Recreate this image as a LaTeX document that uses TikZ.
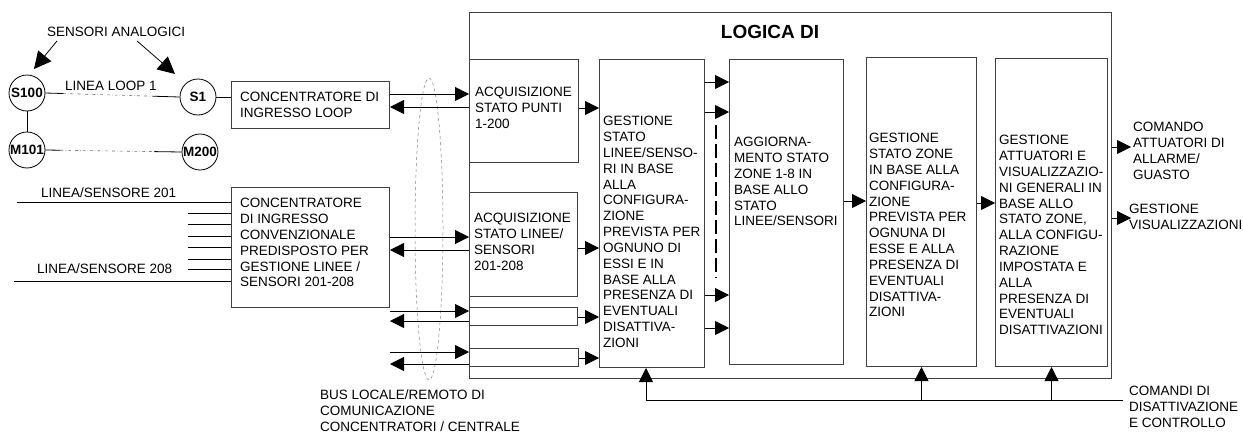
\documentclass[tikz,border=0pt]{standalone}
\usepackage{fontspec}
\setmainfont{Liberation Sans}
\usetikzlibrary{arrows.meta,positioning,calc}
\tikzset{
  box/.style={draw=black!75, line width=1pt, anchor=north west, inner sep=0pt},
  txt/.style={anchor=north west, align=left, inner sep=0pt, font=\fontsize{13.5}{15.85}\selectfont},
  sensore/.style={draw, circle, line width=0.8pt, minimum size=36pt, inner sep=0pt, font=\fontsize{13.5}{15}\selectfont\bfseries},
  arrow/.style={-{Triangle[length=14pt,width=14pt]}, line width=0.8pt},
  bigarrow/.style={-{Triangle[length=17pt,width=17pt]}, line width=0.8pt},
  loopline/.style={dash dot, black!55, line width=0.6pt}
}

\begin{document}
\begin{tikzpicture}[x=1pt, y=-1pt]
  \useasboundingbox (0,0) rectangle (1243,434);

  % logica
  \node[box, minimum width=642pt, minimum height=366pt] (logica) at (469,12) {};
  \node[anchor=center, inner sep=0pt, font=\fontsize{19}{21}\selectfont\bfseries] (tlogica) at (770,32) {LOGICA DI};

  \node[box, minimum width=109pt, minimum height=103pt] (acqpunti) at (469,59) {};
  \node[box, minimum width=108pt, minimum height=104pt] (acqlinee) at (469,192) {};
  \node[box, minimum width=108pt, minimum height=18pt] (acqa) at (469,307) {};
  \node[box, minimum width=109pt, minimum height=18pt] (acqb) at (469,348) {};
  \node[box, minimum width=105pt, minimum height=308pt] (gestlinee) at (599,59) {};
  \node[box, minimum width=114pt, minimum height=305pt] (aggzone) at (729,59) {};
  \node[box, minimum width=110pt, minimum height=309pt] (gestzone) at (866,57) {};
  \node[box, minimum width=112pt, minimum height=308pt] (gestatt) at (995,58) {};

  \node[txt] (tacqpunti) at (475,87) {ACQUISIZIONE\\STATO PUNTI\\1-200};
  \node[txt] (tacqlinee) at (474,213) {ACQUISIZIONE\\STATO LINEE/\\SENSORI\\201-208};
  \node[txt] (tgestlinee) at (603,116) {GESTIONE\\STATO\\LINEE/SENSO-\\RI IN BASE\\ALLA\\CONFIGURA-\\ZIONE\\PREVISTA PER\\OGNUNO DI\\ESSI E IN\\BASE ALLA\\PRESENZA DI\\EVENTUALI\\DISATTIVA-\\ZIONI};
  \node[txt] (taggzone) at (734,137) {AGGIORNA-\\MENTO STATO\\ZONE 1-8 IN\\BASE ALLO\\STATO\\LINEE/SENSORI};
  \node[txt] (tgestzone) at (869,133) {GESTIONE\\STATO ZONE\\IN BASE ALLA\\CONFIGURA-\\ZIONE\\PREVISTA PER\\OGNUNA DI\\ESSE E ALLA\\PRESENZA DI\\EVENTUALI\\DISATTIVA-\\ZIONI};
  \node[txt] (tgestatt) at (999,135) {GESTIONE\\ATTUATORI E\\VISUALIZZAZIO-\\NI GENERALI IN\\BASE ALLO\\STATO ZONE,\\ALLA CONFIGU-\\RAZIONE\\IMPOSTATA E\\ALLA\\PRESENZA DI\\EVENTUALI\\DISATTIVAZIONI};

  % concentratori
  \node[box, minimum width=158pt, minimum height=47pt] (concloop) at (231,81) {};
  \node[box, minimum width=158pt, minimum height=120pt] (concconv) at (231,187) {};
  \node[txt] (tconcloop) at (240,92) {CONCENTRATORE DI\\INGRESSO LOOP};
  \node[txt] (tconcconv) at (240,198) {CONCENTRATORE\\DI INGRESSO\\CONVENZIONALE\\PREDISPOSTO PER\\GESTIONE LINEE /\\SENSORI 201-208};

  % sensori
  \node[sensore] (s100) at (27,93) {S100};
  \node[sensore] (s1) at (198,97) {S1};
  \node[sensore] (m101) at (27,150) {M101};
  \node[sensore] (m200) at (200,152) {M200};
  \node[txt] (tsensori) at (47,27) {SENSORI ANALOGICI};
  \node[txt] (tloop) at (65,81) {LINEA LOOP 1};
  \node[txt] (tlinea201) at (41,188) {LINEA/SENSORE 201};
  \node[txt] (tlinea208) at (37,264) {LINEA/SENSORE 208};

  \draw[bigarrow] ([xshift=10pt, yshift=-4pt]tsensori.south west) -- (34,69);
  \draw[bigarrow] ([xshift=90pt, yshift=-4pt]tsensori.south west) -- (175,74);

  \draw[line width=0.8pt] (s100) -- (m101);
  \draw[line width=0.8pt] (s100.east) -- ($(s100.east)!0.13!(s1.west)$);
  \draw[loopline] ($(s100.east)!0.13!(s1.west)$) -- ($(s100.east)!0.8!(s1.west)$);
  \draw[line width=0.8pt] ($(s100.east)!0.8!(s1.west)$) -- (s1.west);
  \draw[line width=0.8pt] (m101.east) -- ($(m101.east)!0.11!(m200.west)$);
  \draw[loopline] ($(m101.east)!0.11!(m200.west)$) -- ($(m101.east)!0.8!(m200.west)$);
  \draw[line width=0.8pt] ($(m101.east)!0.8!(m200.west)$) -- (m200.west);
  \draw[line width=0.8pt] (s1.east) -- (concloop.west |- s1.east);

  % linee convenzionali
  \draw[line width=0.8pt] (17,202) -- (concconv.west |- 0,202);
  \draw[line width=0.8pt] (14,281) -- (concconv.west |- 0,281);
  \foreach \y in {213,224,236,247,259,269}
    \draw[line width=0.8pt] (188,\y) -- (concconv.west |- 0,\y);

  % bus
  \draw[dashed, black!50, line width=0.5pt] (429,229) ellipse [x radius=14pt, y radius=151pt];
  \node[txt] (tbus) at (320,390) {BUS LOCALE/REMOTO DI\\COMUNICAZIONE\\CONCENTRATORI / CENTRALE};
  \draw[arrow] (concloop.east |- 0,94) -- (acqpunti.west |- 0,94);
  \draw[arrow] (acqpunti.west |- 0,107) -- (concloop.east |- 0,107);
  \draw[arrow] (concconv.east |- 0,237) -- (acqlinee.west |- 0,237);
  \draw[arrow] (acqlinee.west |- 0,250) -- (concconv.east |- 0,250);
  \draw[arrow] (concconv.east |- 0,311) -- (acqa.west |- 0,311);
  \draw[arrow] (acqa.west |- 0,321) -- (concconv.east |- 0,321);
  \draw[arrow] (concconv.east |- 0,352) -- (acqb.west |- 0,352);
  \draw[arrow] (acqb.west |- 0,364) -- (concconv.east |- 0,364);

  % flusso interno
  \draw[arrow] (acqpunti.east |- 0,108) -- (gestlinee.west |- 0,108);
  \draw[arrow] (acqlinee.east |- 0,248) -- (gestlinee.west |- 0,248);
  \draw[arrow] (acqa.east |- 0,317) -- (gestlinee.west |- 0,317);
  \draw[arrow] (acqb.east |- 0,358) -- (gestlinee.west |- 0,358);
  \foreach \y in {82,112,295,328}
    \draw[arrow] (gestlinee.east |- 0,\y) -- (aggzone.west |- 0,\y);
  \draw[line width=2pt, dash pattern=on 14pt off 5pt] (716,125) -- (716,278);
  \draw[arrow] (aggzone.east |- 0,201) -- (gestzone.west |- 0,201);
  \draw[arrow] (gestzone.east |- 0,203) -- (gestatt.west |- 0,203);

  % uscite
  \draw[arrow] (logica.east |- 0,147) -- ++(19,0);
  \draw[arrow] (logica.east |- 0,218) -- ++(19,0);
  \node[txt] (tcomando) at (1133,122) {COMANDO\\ATTUATORI DI\\ALLARME/\\GUASTO};
  \node[txt] (tvisual) at (1129,204) {GESTIONE\\VISUALIZZAZIONI};

  % comandi
  \coordinate (cmd) at (1123,400);
  \coordinate (fb) at (646,400);
  \draw[line width=0.8pt] (fb) -- (cmd);
  \draw[arrow] (fb) -- (fb |- gestlinee.south);
  \draw[arrow] (gestzone.south |- cmd) -- (gestzone.south);
  \draw[arrow] (gestatt.south |- cmd) -- (gestatt.south);
  \node[txt] (tcomandi) at (1129,386) {COMANDI DI\\DISATTIVAZIONE\\E CONTROLLO};
\end{tikzpicture}
\end{document}
